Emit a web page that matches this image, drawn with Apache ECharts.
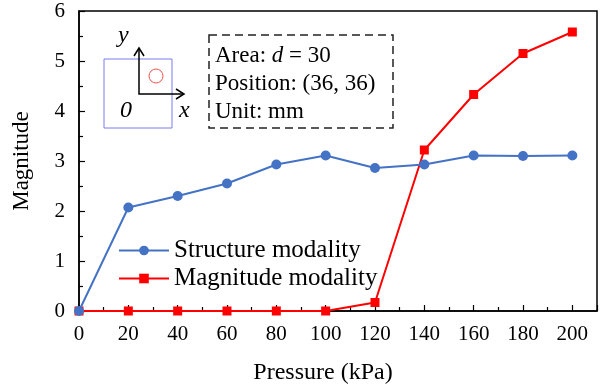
<!DOCTYPE html>
<html><head><meta charset="utf-8">
<script src="https://cdn.jsdelivr.net/npm/echarts@6/dist/echarts.min.js"></script>
<style>html,body{margin:0;padding:0;background:#fff}#c{width:606px;height:392px}</style>
</head><body><div id="c"></div>
<script>
const pressure = [0, 20, 40, 60, 80, 100, 120, 140, 160, 180, 200];
const structureModality = [0, 2.07, 2.30, 2.55, 2.93, 3.11, 2.86, 2.93, 3.11, 3.10, 3.11];
const magnitudeModality = [0, 0, 0, 0, 0, 0, 0.17, 3.22, 4.33, 5.15, 5.58];
const seriesNames = ['Structure modality', 'Magnitude modality'];
const xTicks = [0, 20, 40, 60, 80, 100, 120, 140, 160, 180, 200];
const yTicks = [0, 1, 2, 3, 4, 5, 6];
const infoLines = ['Area: {i|d} = 30', 'Position: (36, 36)', 'Unit: mm'];

const F = 'Liberation Serif';
const chart = echarts.init(document.getElementById('c'));
const pair = (xs, ys) => xs.map((x, i) => [x, ys[i]]);
chart.setOption({
  animation: false,
  textStyle: {fontFamily: F},
  grid: {left: 79, right: 9, top: 11, bottom: 81, show: true, borderColor: '#000', borderWidth: 1.5, backgroundColor: 'transparent'},
  xAxis: {
    type: 'value', min: 0, max: 210, interval: 20,
    name: 'Pressure (kPa)', nameLocation: 'middle', nameGap: 50,
    nameTextStyle: {fontFamily: F, fontSize: 24, color: '#000', padding: [0, 30, 0, 0]},
    axisLine: {show: true, onZero: false, lineStyle: {color: '#000', width: 1.5}},
    axisTick: {inside: true, length: 6, lineStyle: {color: '#000', width: 1.2}},
    minorTick: {show: true, splitNumber: 2, length: 4, lineStyle: {color: '#000', width: 1.2}},
    axisLabel: {fontFamily: F, fontSize: 21, color: '#000', margin: 13,
      formatter: v => xTicks.includes(v) ? String(v) : ''},
    splitLine: {show: false}
  },
  yAxis: {
    type: 'value', min: 0, max: 6, interval: 1,
    name: 'Magnitude', nameLocation: 'middle', nameGap: 46,
    nameTextStyle: {fontFamily: F, fontSize: 23, color: '#000'},
    axisLine: {show: true, lineStyle: {color: '#000', width: 1.5}},
    axisTick: {inside: true, length: 6, lineStyle: {color: '#000', width: 1.2}},
    minorTick: {show: true, splitNumber: 2, length: 4, lineStyle: {color: '#000', width: 1.2}},
    axisLabel: {fontFamily: F, fontSize: 21, color: '#000', margin: 14,
      formatter: v => yTicks.includes(v) ? String(v) : ''},
    splitLine: {show: false}
  },
  legend: {
    left: 113, top: 233, orient: 'vertical', itemGap: 3,
    itemWidth: 50, itemHeight: 12,
    textStyle: {fontFamily: F, fontSize: 25, color: '#000'},
    data: seriesNames
  },
  series: [
    {name: seriesNames[0], type: 'line', data: pair(pressure, structureModality),
     symbol: 'circle', symbolSize: 10, color: '#4472C4', lineStyle: {width: 2}, clip: false,
     showSymbol: true, z: 3},
    {name: seriesNames[1], type: 'line', data: pair(pressure, magnitudeModality),
     symbol: 'rect', symbolSize: 9, color: '#FF0000', lineStyle: {width: 2}, clip: false, z: 2}
  ],
  graphic: [
    {type: 'rect', shape: {x: 104, y: 59, width: 68, height: 69}, style: {fill: 'none', stroke: '#7B7BF0', lineWidth: 1}},
    {type: 'circle', shape: {cx: 156, cy: 76, r: 7}, style: {fill: 'none', stroke: '#F05050', lineWidth: 1}},
    {type: 'polyline', shape: {points: [[139, 49], [139, 94], [183, 94]]}, style: {fill: 'none', stroke: '#000', lineWidth: 1.5}},
    {type: 'polyline', shape: {points: [[134, 56], [139, 48], [144, 56]]}, style: {fill: 'none', stroke: '#000', lineWidth: 1.5}},
    {type: 'polyline', shape: {points: [[176, 89], [184, 94], [176, 99]]}, style: {fill: 'none', stroke: '#000', lineWidth: 1.5}},
    {type: 'text', x: 118, y: 24, style: {text: 'y', font: 'italic 24px "Liberation Serif"', fill: '#000'}},
    {type: 'text', x: 179, y: 99, style: {text: 'x', font: 'italic 24px "Liberation Serif"', fill: '#000'}},
    {type: 'text', x: 120, y: 99, style: {text: '0', font: 'italic 24px "Liberation Serif"', fill: '#000'}},
    {type: 'rect', shape: {x: 209, y: 35, width: 184, height: 93}, style: {fill: '#fff', stroke: '#222', lineWidth: 1.5, lineDash: [8, 5]}},
    {type: 'text', x: 215, y: 42, style: {
      text: infoLines.join('\n'), fontFamily: F, fontSize: 23, fill: '#000', lineHeight: 28,
      rich: {i: {fontStyle: 'italic', fontFamily: F, fontSize: 23, lineHeight: 28}}}}
  ]
});
</script></body></html>
